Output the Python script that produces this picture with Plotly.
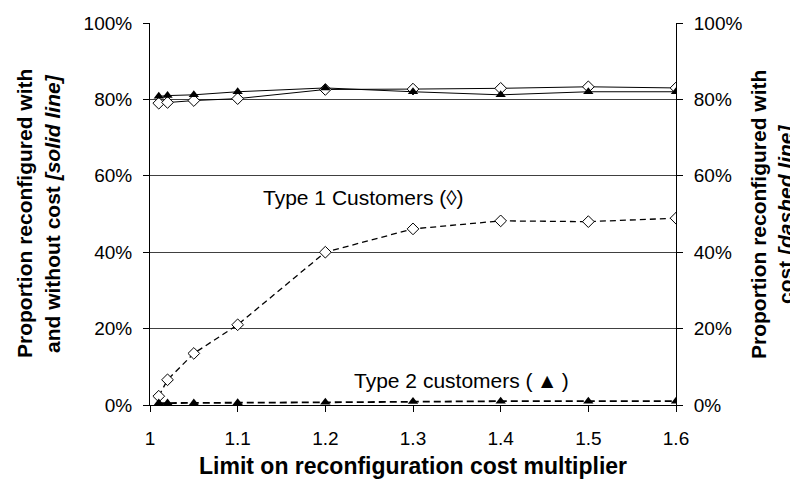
import plotly.graph_objects as go

x = [1.01, 1.02, 1.05, 1.1, 1.2, 1.3, 1.4, 1.5, 1.6]
type1_solid = [0.79, 0.792, 0.797, 0.802, 0.826, 0.827, 0.829, 0.833, 0.830]
type2_solid = [0.808, 0.810, 0.812, 0.820, 0.830, 0.820, 0.812, 0.820, 0.820]
type1_dashed = [0.023, 0.066, 0.135, 0.21, 0.40, 0.461, 0.482, 0.480, 0.489]
type2_dashed = [0.005, 0.005, 0.005, 0.006, 0.007, 0.009, 0.010, 0.010, 0.010]

xticks = [1.0, 1.1, 1.2, 1.3, 1.4, 1.5, 1.6]
xticklabels = ["1", "1.1", "1.2", "1.3", "1.4", "1.5", "1.6"]
yticks = [0, 0.2, 0.4, 0.6, 0.8, 1.0]
yticklabels = ["0%", "20%", "40%", "60%", "80%", "100%"]

left_title = ["<b>Proportion reconfigured with</b>", "<b>and without cost <i>[solid line]</i></b>"]
right_title = ["<b>Proportion reconfigured with</b>", "<b>cost <i>[dashed line]</i></b>"]
x_title = "<b>Limit on reconfiguration cost multiplier</b>"

FONT = "Liberation Sans, Arial, sans-serif"

diamond_fill = dict(symbol="diamond", size=9, color="white", line=dict(width=1, color="black"))
tri = dict(symbol="triangle-up", size=9, color="black")

fig = go.Figure()
fig.add_trace(go.Scatter(x=x, y=type1_solid, mode="lines+markers",
                         line=dict(color="black", width=1), marker=diamond_fill, yaxis="y"))
fig.add_trace(go.Scatter(x=x, y=type2_solid, mode="lines+markers",
                         line=dict(color="black", width=1), marker=tri, yaxis="y"))
fig.add_trace(go.Scatter(x=x, y=type1_dashed, mode="lines+markers",
                         line=dict(color="black", width=1.3, dash="6px,4px"), marker=diamond_fill, yaxis="y2"))
fig.add_trace(go.Scatter(x=x, y=type2_dashed, mode="lines+markers",
                         line=dict(color="black", width=1.8, dash="7px,4px"), marker=tri, yaxis="y2"))

axis_common = dict(showline=True, linecolor="black", linewidth=1, zeroline=False,
                   ticks="outside", ticklen=6, tickcolor="black", automargin=False,
                   tickfont=dict(size=19))

PL, PR, PT, PB = 142, 668, 15, 397
pw, ph = PR - PL, PB - PT


def px_x(v):
    return (v - PL) / pw


def px_y(v):
    return (PB - v) / ph


annotations = [
    dict(x=1.244, y=0.542, xref="x", yref="y", text="Type 1 Customers (◊)", showarrow=False,
         xanchor="center", yanchor="middle", font=dict(size=21)),
    dict(x=1.355, y=0.063, xref="x", yref="y", text="Type 2 customers (\u2009▲\u2009)",
         showarrow=False, xanchor="center", yanchor="middle", font=dict(size=21)),
    dict(x=0.5, y=px_y(458), xref="paper", yref="paper", text=x_title, showarrow=False,
         xanchor="center", yanchor="middle", font=dict(size=23)),
]
for line, cx in zip(left_title, [16, 44]):
    annotations.append(dict(x=px_x(cx), y=0.5, xref="paper", yref="paper", textangle=-90,
                            text=line, xanchor="center", yanchor="middle", showarrow=False,
                            font=dict(size=21)))
for line, cx in zip(right_title, [750, 777]):
    annotations.append(dict(x=px_x(cx), y=0.5, xref="paper", yref="paper", textangle=-90,
                            text=line, xanchor="center", yanchor="middle", showarrow=False,
                            font=dict(size=21)))

fig.update_layout(
    width=798, height=483,
    margin=dict(l=PL, r=798 - PR, t=PT, b=483 - PB),
    paper_bgcolor="white", plot_bgcolor="white",
    showlegend=False,
    font=dict(family=FONT, size=19, color="black"),
    xaxis=dict(range=[1, 1.6], tickvals=xticks, ticktext=xticklabels, showgrid=False,
               ticklabelstandoff=10, **axis_common),
    yaxis=dict(range=[0, 1], tickvals=yticks, ticktext=yticklabels,
               showgrid=True, gridcolor="#404040", gridwidth=1, ticklabelstandoff=7,
               **axis_common),
    yaxis2=dict(range=[0, 1], tickvals=yticks, ticktext=yticklabels, overlaying="y", side="right",
                showgrid=False, ticklabelstandoff=7, **axis_common),
    annotations=annotations,
)

fig.write_html("out.html")
